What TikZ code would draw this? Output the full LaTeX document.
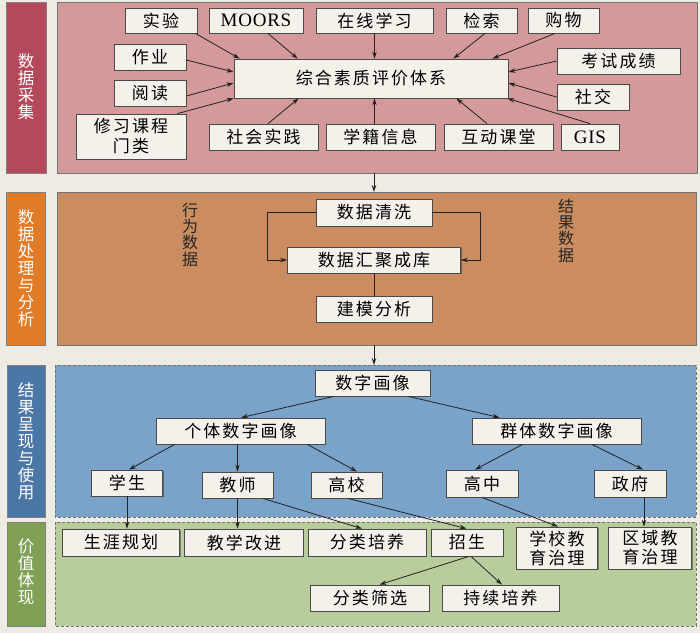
\documentclass[tikz,border=0pt]{standalone}
\usepackage{fontspec}
\setmainfont{Liberation Serif}
\newfontfamily\cjk{Noto Sans CJK SC}
\newfontfamily\cjkbox[LetterSpace=12]{Noto Sans CJK SC}
\newfontfamily\latbox[LetterSpace=4]{Liberation Serif}
\usetikzlibrary{arrows.meta,calc,shadows}
\definecolor{bg}{HTML}{EDEBE4}
\definecolor{redbar}{HTML}{B5495C}
\definecolor{redpanel}{HTML}{D49A9B}
\definecolor{orangebar}{HTML}{E07B27}
\definecolor{orangepanel}{HTML}{CB8C5F}
\definecolor{bluebar}{HTML}{4A77A6}
\definecolor{bluepanel}{HTML}{7AA3C9}
\definecolor{greenbar}{HTML}{7FA055}
\definecolor{greenpanel}{HTML}{B8CD9B}
\definecolor{boxfill}{HTML}{F4F1EA}
\definecolor{boxline}{HTML}{4A4A4A}
\definecolor{arr}{HTML}{222222}
\begin{document}
\begin{tikzpicture}[x=1pt,y=-1pt,
  bx/.style={draw=boxline,line width=0.8pt,fill=boxfill,inner sep=0pt,align=center,
    font=\cjkbox\fontsize{17}{20}\selectfont,
    drop shadow={shadow xshift=1.2pt,shadow yshift=-1.2pt,opacity=.35,fill=black}},
  lat/.style={font=\latbox\fontsize{19}{20}\selectfont},
  barlabel/.style={text=white,align=center,font=\cjk\fontsize{16.5}{17}\selectfont,inner sep=0pt},
  sidelabel/.style={text=black!85,align=center,font=\cjk\fontsize{16}{16.3}\selectfont,inner sep=0pt},
  ar/.style={draw=arr,line width=0.8pt,-{Stealth[length=7pt,width=4.5pt]}},
  ln/.style={draw=arr,line width=0.8pt},
  panel/.style={draw=black!55,line width=0.6pt},
  dpanel/.style={draw=black!55,line width=0.8pt,dash pattern=on 3pt off 2pt}]
\useasboundingbox (0,0) rectangle (700,633);
\fill[bg] (0,0) rectangle (700,633);

% panels
\filldraw[fill=redbar,draw=black!50,line width=0.5pt] (6,2) rectangle (46,173);
\filldraw[fill=redpanel,panel] (57,2) rectangle (697,173);
\filldraw[fill=orangebar,draw=black!50,line width=0.5pt] (6.5,192) rectangle (45.5,345);
\filldraw[fill=orangepanel,panel] (57,192) rectangle (696,345);
\filldraw[fill=bluebar,draw=black!50,line width=0.5pt] (7,365) rectangle (45.5,517);
\filldraw[fill=bluepanel,dpanel] (55,365) rectangle (696,517);
\filldraw[fill=greenbar,draw=black!50,line width=0.5pt] (7,522) rectangle (45,626);
\filldraw[fill=greenpanel,dpanel] (55,522) rectangle (696,626);

\node[barlabel] (l1) at (26,87) {数\\据\\采\\集};
\node[barlabel] (l2) at (26,268) {数\\据\\处\\理\\与\\分\\析};
\node[barlabel] (l3) at (26,441) {结\\果\\呈\\现\\与\\使\\用};
\node[barlabel] (l4) at (26,572) {价\\值\\体\\现};

\coordinate (p1) at (374,173);
\coordinate (p2) at (374,192);
\coordinate (p3) at (374,345);
\coordinate (p4) at (374,365);
\draw[ar] (p1) -- (p2);
\draw[ar] (p3) -- (p4);

% ---- data collection
\node[bx,minimum width=274pt,minimum height=39pt] (main) at (371,78.5) {综合素质评价体系};
\node[bx,minimum width=72pt,minimum height=25pt] (sy) at (161,20.5) {实验};
\node[bx,lat,minimum width=94pt,minimum height=25pt] (moors) at (256,20.5) {MOORS};
\node[bx,minimum width=117pt,minimum height=25pt] (zx) at (374.5,20.5) {在线学习};
\node[bx,minimum width=71pt,minimum height=25pt] (js) at (481.5,20.5) {检索};
\node[bx,minimum width=71pt,minimum height=25pt] (gw) at (563.5,20.5) {购物};
\node[bx,minimum width=72pt,minimum height=26pt] (zy) at (150,57) {作业};
\node[bx,minimum width=72pt,minimum height=26pt] (yd) at (150,93) {阅读};
\node[bx,minimum width=110pt,minimum height=45pt] (xx) at (131,136.5) {修习课程\\门类};
\node[bx,minimum width=123pt,minimum height=26pt] (ks) at (618.5,61) {考试成绩};
\node[bx,minimum width=72pt,minimum height=26pt] (sj) at (593,97) {社交};
\node[bx,minimum width=109pt,minimum height=26pt] (shsj) at (263.5,137) {社会实践};
\node[bx,minimum width=109pt,minimum height=26pt] (xj) at (380.5,137) {学籍信息};
\node[bx,minimum width=109pt,minimum height=26pt] (hd) at (498.5,137) {互动课堂};
\node[bx,lat,minimum width=58pt,minimum height=26pt] (gis) at (590,137) {GIS};

\draw[ar] ($(sy.south east)+(-2,0)$) -- ($(main.north west)+(6,0)$);
\draw[ar] ($(moors.south)+(12,0)$) -- ($(main.north west)+(64,0)$);
\draw[ar] (zx.south) -- (zx.south |- main.north);
\draw[ar] ($(js.south)+(3.5,0)$) -- ($(main.north east)+(-55,0)$);
\draw[ar] ($(gw.south)+(-8.5,0)$) -- ($(main.north east)+(-16,0)$);
\draw[ar] (ks.west) -- ($(main.east)+(0,-6.5)$);
\draw[ar] (sj.west) -- ($(main.east)+(0,4.5)$);
\draw[ar] (gis.north) -- ($(main.south east)+(-1,0)$);
\draw[ar] ($(hd.north)+(-11.5,0)$) -- ($(main.south east)+(-52,0)$);
\draw[ar] (xj.north -| zx.south) -- (main.south -| zx.south);
\draw[ar] ($(shsj.north)+(4.5,0)$) -- ($(main.south west)+(65,0)$);
\draw[ar] ($(zy.east)+(0,3)$) -- ($(main.west)+(0,-6.5)$);
\draw[ar] ($(yd.east)+(0,3)$) -- ($(main.west)+(0,4.5)$);
\draw[ar] ($(xx.north east)+(-9,0)$) -- ($(main.south west)+(0,0)$);

% ---- processing
\node[bx,minimum width=116pt,minimum height=27pt] (qx) at (374,212.5) {数据清洗};
\node[bx,minimum width=173pt,minimum height=26pt] (hj) at (374,260) {数据汇聚成库};
\node[bx,minimum width=116pt,minimum height=26pt] (jm) at (374,309) {建模分析};
\draw[ar] (qx.west) -- ++(-48,0) |- (hj.west);
\draw[ar] (qx.east) -- ++(48,0) |- (hj.east);
\draw[ln] (hj.south) -- (jm.north);
\node[sidelabel] (xw) at (190,234.5) {行\\为\\数\\据};
\node[sidelabel] (jg) at (566,230.5) {结\\果\\数\\据};

% ---- results
\node[bx,minimum width=115pt,minimum height=26pt] (sz) at (372.5,383) {数字画像};
\node[bx,minimum width=169pt,minimum height=26pt] (gt) at (240.5,431) {个体数字画像};
\node[bx,minimum width=169pt,minimum height=26pt] (qt) at (556.5,431) {群体数字画像};
\node[bx,minimum width=71pt,minimum height=26pt] (xs) at (127,483) {学生};
\node[bx,minimum width=71pt,minimum height=26pt] (jsh) at (237.5,485) {教师};
\node[bx,minimum width=71pt,minimum height=26pt] (gx) at (346.5,485) {高校};
\node[bx,minimum width=72pt,minimum height=27pt] (gz) at (482,483.5) {高中};
\node[bx,minimum width=72pt,minimum height=27pt] (zf) at (630,483.5) {政府};

\draw[ar] ($(sz.south west)+(19,0)$) -- ($(gt.north)+(0.5,0)$);
\draw[ar] ($(sz.south east)+(-22,0)$) -- ($(qt.north west)+(28,0)$);
\draw[ar] ($(gt.south west)+(19,0)$) -- ($(xs.north)+(2,0)$);
\draw[ar] (jsh.north |- gt.south) -- (jsh.north);
\draw[ar] ($(gt.south east)+(-18,0)$) -- ($(gx.north)+(10.5,0)$);
\draw[ar] ($(qt.south west)+(51,0)$) -- ($(gz.north)+(-7,0)$);
\draw[ar] ($(qt.south east)+(-49.5,0)$) -- ($(zf.north)+(13,0)$);

% ---- value
\node[bx,minimum width=117.5pt,minimum height=27pt] (syg) at (121,542.5) {生涯规划};
\node[bx,minimum width=118.5pt,minimum height=27pt] (jxgj) at (244,542.5) {教学改进};
\node[bx,minimum width=118pt,minimum height=27pt] (flpy) at (367,542.5) {分类培养};
\node[bx,minimum width=72pt,minimum height=27pt] (zs) at (467,542.5) {招生};
\node[bx,minimum width=81.5pt,minimum height=42pt,font=\cjkbox\fontsize{17}{19}\selectfont] (xxzl) at (557,548) {学校教\\育治理};
\node[bx,minimum width=83.5pt,minimum height=42pt,font=\cjkbox\fontsize{17}{19}\selectfont] (qyzl) at (650,548) {区域教\\育治理};
\node[bx,minimum width=118.5pt,minimum height=26pt] (flsx) at (370,598) {分类筛选};
\node[bx,minimum width=117pt,minimum height=26pt] (cxpy) at (500.5,598) {持续培养};

\draw[ar] (xs.south) -- (xs.south |- syg.north);
\draw[ar] (jsh.south) -- (jsh.south |- jxgj.north);
\draw[ar] ($(jsh.south)+(25.5,0)$) -- ($(flpy.north)+(-5,0)$);
\draw[ar] ($(gx.south)+(1.5,0)$) -- ($(zs.north)+(-0.5,0)$);
\draw[ar] (gz.south) -- ($(xxzl.north)+(1,0)$);
\draw[ar] ($(zf.south)+(14,0)$) -- ($(qyzl.north)+(-6,0)$);
\draw[ar] ($(zs.south)+(2,0)$) -- ($(flsx.north)+(9.5,0)$);
\draw[ar] ($(zs.south)+(4,0)$) -- ($(cxpy.north)+(1.5,0)$);
\end{tikzpicture}
\end{document}
